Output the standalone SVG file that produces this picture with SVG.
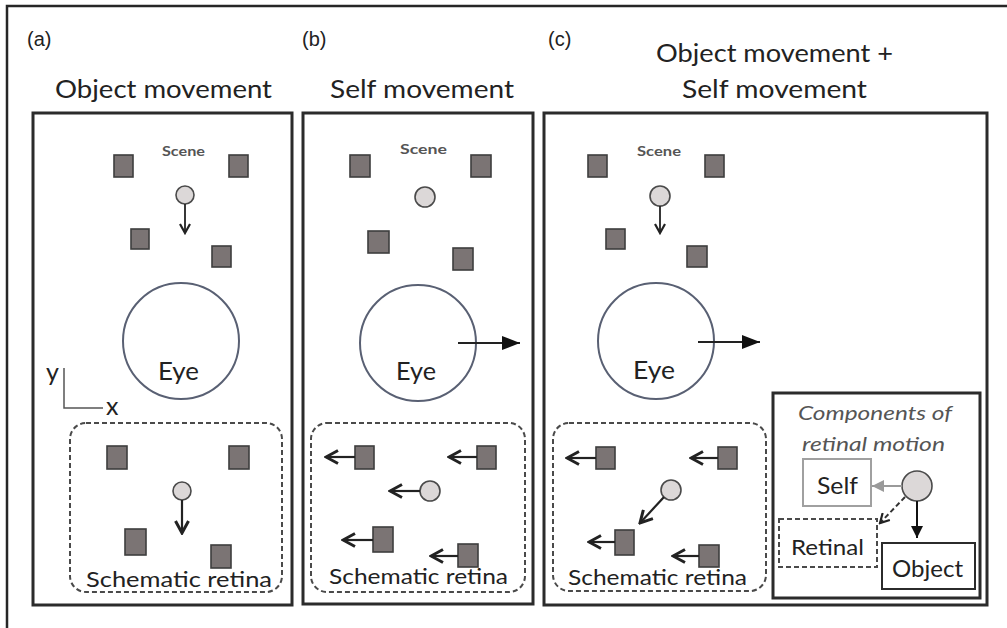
<svg xmlns="http://www.w3.org/2000/svg" width="1007" height="628" viewBox="0 0 1007 628">
<style>
  .frame{fill:none;stroke:#262626;stroke-width:2.5}
  .panel{fill:none;stroke:#2b2b2b;stroke-width:3}
  .sq{fill:#7b7474;stroke:#3e3e3e;stroke-width:1.6}
  .dot{fill:#dcd8d8;stroke:#4a4a4a;stroke-width:1.6}
  .eye{fill:none;stroke:#596073;stroke-width:2}
  .dash{fill:none;stroke:#4a4a4a;stroke-width:2;stroke-dasharray:5 3}
  .lbl{font-family:"Liberation Sans",Arial,sans-serif;font-size:20px;fill:#222}
  .title{font-family:Lato,"Open Sans",sans-serif;font-size:25px;fill:#222}
  .scene{font-family:Lato,"Open Sans",sans-serif;font-size:14px;font-weight:bold;fill:#555}
  .txt{font-family:Lato,"Open Sans",sans-serif;fill:#222}
  .ital{font-family:Lato,"Open Sans",sans-serif;font-style:italic;font-size:20px;fill:#555}
  .ln{stroke:#222;stroke-width:1.8;fill:none}
  .lnk{stroke:#222;stroke-width:2.2;fill:none}
</style>
<defs>
  <marker id="chev" viewBox="0 0 12 12" refX="10" refY="6" markerWidth="12" markerHeight="12" markerUnits="userSpaceOnUse" orient="auto">
    <path d="M1,1 L10,6 L1,11" fill="none" stroke="#222" stroke-width="2.2"/>
  </marker>
  <marker id="chevB" viewBox="0 0 16 16" refX="14" refY="8" markerWidth="16" markerHeight="16" markerUnits="userSpaceOnUse" orient="auto">
    <path d="M2,1.5 L14,8 L2,14.5" fill="none" stroke="#222" stroke-width="3"/>
  </marker>
  <marker id="tri" viewBox="0 0 18 14" refX="18" refY="7" markerWidth="18" markerHeight="14" markerUnits="userSpaceOnUse" orient="auto">
    <path d="M0,0 L18,7 L0,14 Z" fill="#111"/>
  </marker>
  <marker id="triS" viewBox="0 0 12 12" refX="12" refY="6" markerWidth="12" markerHeight="12" markerUnits="userSpaceOnUse" orient="auto">
    <path d="M0,0 L12,6 L0,12 Z" fill="#111"/>
  </marker>
  <marker id="triG" viewBox="0 0 12 12" refX="12" refY="6" markerWidth="12" markerHeight="12" markerUnits="userSpaceOnUse" orient="auto">
    <path d="M0,0 L12,6 L0,12 Z" fill="#9a9a9a"/>
  </marker>
</defs>

<path class="frame" d="M7,628 V6 H1007"/>

<g id="panel-a">
  <text class="lbl" x="27" y="46">(a)</text>
  <text class="title" x="55" y="98" textLength="217" lengthAdjust="spacingAndGlyphs">Object movement</text>
  <rect class="panel" x="33" y="113" width="259" height="492"/>
  <text class="scene" x="162" y="156" textLength="43" lengthAdjust="spacingAndGlyphs">Scene</text>
  <rect class="sq" x="114" y="155" width="19" height="22"/>
  <rect class="sq" x="229" y="155" width="19" height="22"/>
  <rect class="sq" x="131" y="229" width="18" height="20"/>
  <rect class="sq" x="212" y="246" width="19" height="21"/>
  <circle class="dot" cx="185" cy="195" r="9"/>
  <circle class="eye" cx="181" cy="341" r="58"/>
  <text class="txt" x="158" y="380" font-size="25" textLength="41" lengthAdjust="spacingAndGlyphs">Eye</text>
  <path d="M64,368 V408 H103" fill="none" stroke="#555" stroke-width="1.5"/>
  <text class="txt" x="46" y="381" font-size="25">y</text>
  <text class="txt" x="106" y="415" font-size="25">x</text>
  <rect class="dash" x="70" y="423" width="212" height="169" rx="16"/>
  <rect class="sq" x="107" y="446" width="20" height="23"/>
  <rect class="sq" x="229" y="446" width="20" height="23"/>
  <rect class="sq" x="125" y="529" width="21" height="26"/>
  <rect class="sq" x="211" y="545" width="20" height="23"/>
  <circle class="dot" cx="182" cy="491" r="9"/>
  <text class="txt" x="86" y="587" font-size="22" fill="#333" textLength="186" lengthAdjust="spacingAndGlyphs">Schematic retina</text>
</g>

<g id="panel-b">
  <text class="lbl" x="302" y="46">(b)</text>
  <text class="title" x="330" y="98" textLength="184" lengthAdjust="spacingAndGlyphs">Self movement</text>
  <rect class="panel" x="303" y="113" width="230" height="491"/>
  <text class="scene" x="400" y="154" textLength="47" lengthAdjust="spacingAndGlyphs">Scene</text>
  <rect class="sq" x="350" y="155" width="20" height="22"/>
  <rect class="sq" x="471" y="155" width="20" height="22"/>
  <rect class="sq" x="368" y="231" width="21" height="22"/>
  <rect class="sq" x="453" y="248" width="20" height="22"/>
  <circle class="dot" cx="425" cy="197" r="10"/>
  <circle class="eye" cx="418" cy="343" r="58"/>
  <text class="txt" x="396" y="380" font-size="25" textLength="40" lengthAdjust="spacingAndGlyphs">Eye</text>
  <rect class="dash" x="311" y="423" width="214" height="169" rx="16"/>
  <rect class="sq" x="355" y="446" width="19" height="23"/>
  <rect class="sq" x="477" y="446" width="19" height="23"/>
  <circle class="dot" cx="430" cy="491" r="10"/>
  <rect class="sq" x="373" y="527" width="20" height="25"/>
  <rect class="sq" x="458" y="544" width="20" height="23"/>
  <text class="txt" x="329" y="584" font-size="22" fill="#333" textLength="179" lengthAdjust="spacingAndGlyphs">Schematic retina</text>
</g>

<g id="panel-c">
  <text class="lbl" x="548" y="46">(c)</text>
  <text class="title" x="656" y="62" textLength="237" lengthAdjust="spacingAndGlyphs">Object movement +</text>
  <text class="title" x="682" y="98" textLength="185" lengthAdjust="spacingAndGlyphs">Self movement</text>
  <rect class="panel" x="544" y="113" width="443" height="492"/>
  <text class="scene" x="637" y="156" textLength="44" lengthAdjust="spacingAndGlyphs">Scene</text>
  <rect class="sq" x="588" y="155" width="19" height="22"/>
  <rect class="sq" x="705" y="155" width="19" height="22"/>
  <rect class="sq" x="606" y="229" width="19" height="20"/>
  <rect class="sq" x="687" y="246" width="20" height="21"/>
  <circle class="dot" cx="660" cy="196" r="10"/>
  <circle class="eye" cx="656" cy="341" r="58"/>
  <text class="txt" x="633" y="379" font-size="25" textLength="42" lengthAdjust="spacingAndGlyphs">Eye</text>
  <rect class="dash" x="553" y="423" width="213" height="168" rx="16"/>
  <rect class="sq" x="596" y="447" width="19" height="22"/>
  <rect class="sq" x="718" y="447" width="19" height="22"/>
  <circle class="dot" cx="671" cy="490" r="10"/>
  <rect class="sq" x="615" y="530" width="19" height="25"/>
  <rect class="sq" x="699" y="545" width="20" height="22"/>
  <text class="txt" x="568" y="585" font-size="22" fill="#333" textLength="179" lengthAdjust="spacingAndGlyphs">Schematic retina</text>
</g>

<g id="components">
  <rect class="panel" x="773" y="393" width="207" height="205" stroke-width="2.5"/>
  <text class="ital" x="798" y="420" textLength="154" lengthAdjust="spacingAndGlyphs">Components of</text>
  <text class="ital" x="802" y="451" textLength="143" lengthAdjust="spacingAndGlyphs">retinal motion</text>
  <rect x="803" y="459" width="68" height="47" fill="none" stroke="#a0a0a0" stroke-width="2"/>
  <text class="txt" x="817" y="494" font-size="24" fill="#333" textLength="41" lengthAdjust="spacingAndGlyphs">Self</text>
  <circle class="dot" cx="917" cy="486" r="15" stroke-width="2"/>
  <rect class="dash" x="779" y="519" width="98" height="48"/>
  <text class="txt" x="791" y="555" font-size="21" fill="#333" textLength="73" lengthAdjust="spacingAndGlyphs">Retinal</text>
  <rect x="882" y="543" width="93" height="46" fill="none" stroke="#2b2b2b" stroke-width="2"/>
  <text class="txt" x="892" y="577" font-size="23" fill="#222" textLength="71" lengthAdjust="spacingAndGlyphs">Object</text>
</g>

<g id="connectors">
  <line class="ln" x1="185" y1="204" x2="185" y2="233" marker-end="url(#chev)"/>
  <line class="ln" x1="660" y1="206" x2="660" y2="233" marker-end="url(#chev)"/>
  <line class="lnk" x1="182" y1="500" x2="182" y2="533" marker-end="url(#chevB)"/>
  <line class="ln" x1="458" y1="343" x2="520" y2="343" marker-end="url(#tri)"/>
  <line class="ln" x1="698" y1="342" x2="760" y2="342" marker-end="url(#tri)"/>
  <line class="lnk" x1="355" y1="457" x2="326" y2="457" marker-end="url(#chevB)"/>
  <line class="lnk" x1="477" y1="457" x2="449" y2="457" marker-end="url(#chevB)"/>
  <line class="lnk" x1="420" y1="491" x2="390" y2="491" marker-end="url(#chevB)"/>
  <line class="lnk" x1="373" y1="540" x2="343" y2="540" marker-end="url(#chevB)"/>
  <line class="lnk" x1="458" y1="556" x2="431" y2="556" marker-end="url(#chevB)"/>
  <line class="lnk" x1="596" y1="458" x2="567" y2="458" marker-end="url(#chevB)"/>
  <line class="lnk" x1="718" y1="458" x2="691" y2="458" marker-end="url(#chevB)"/>
  <line class="lnk" x1="664" y1="497" x2="640" y2="523" marker-end="url(#chevB)"/>
  <line class="lnk" x1="615" y1="542" x2="589" y2="542" marker-end="url(#chevB)"/>
  <line class="lnk" x1="699" y1="556" x2="673" y2="556" marker-end="url(#chevB)"/>
  <line x1="902" y1="486" x2="872" y2="486" stroke="#9a9a9a" stroke-width="2" marker-end="url(#triG)"/>
  <line x1="917" y1="501" x2="917" y2="538" stroke="#111" stroke-width="2" marker-end="url(#triS)"/>
  <line x1="905" y1="497" x2="880" y2="523" stroke="#333" stroke-width="2" stroke-dasharray="5 3" marker-end="url(#chev)"/>
</g>
</svg>
